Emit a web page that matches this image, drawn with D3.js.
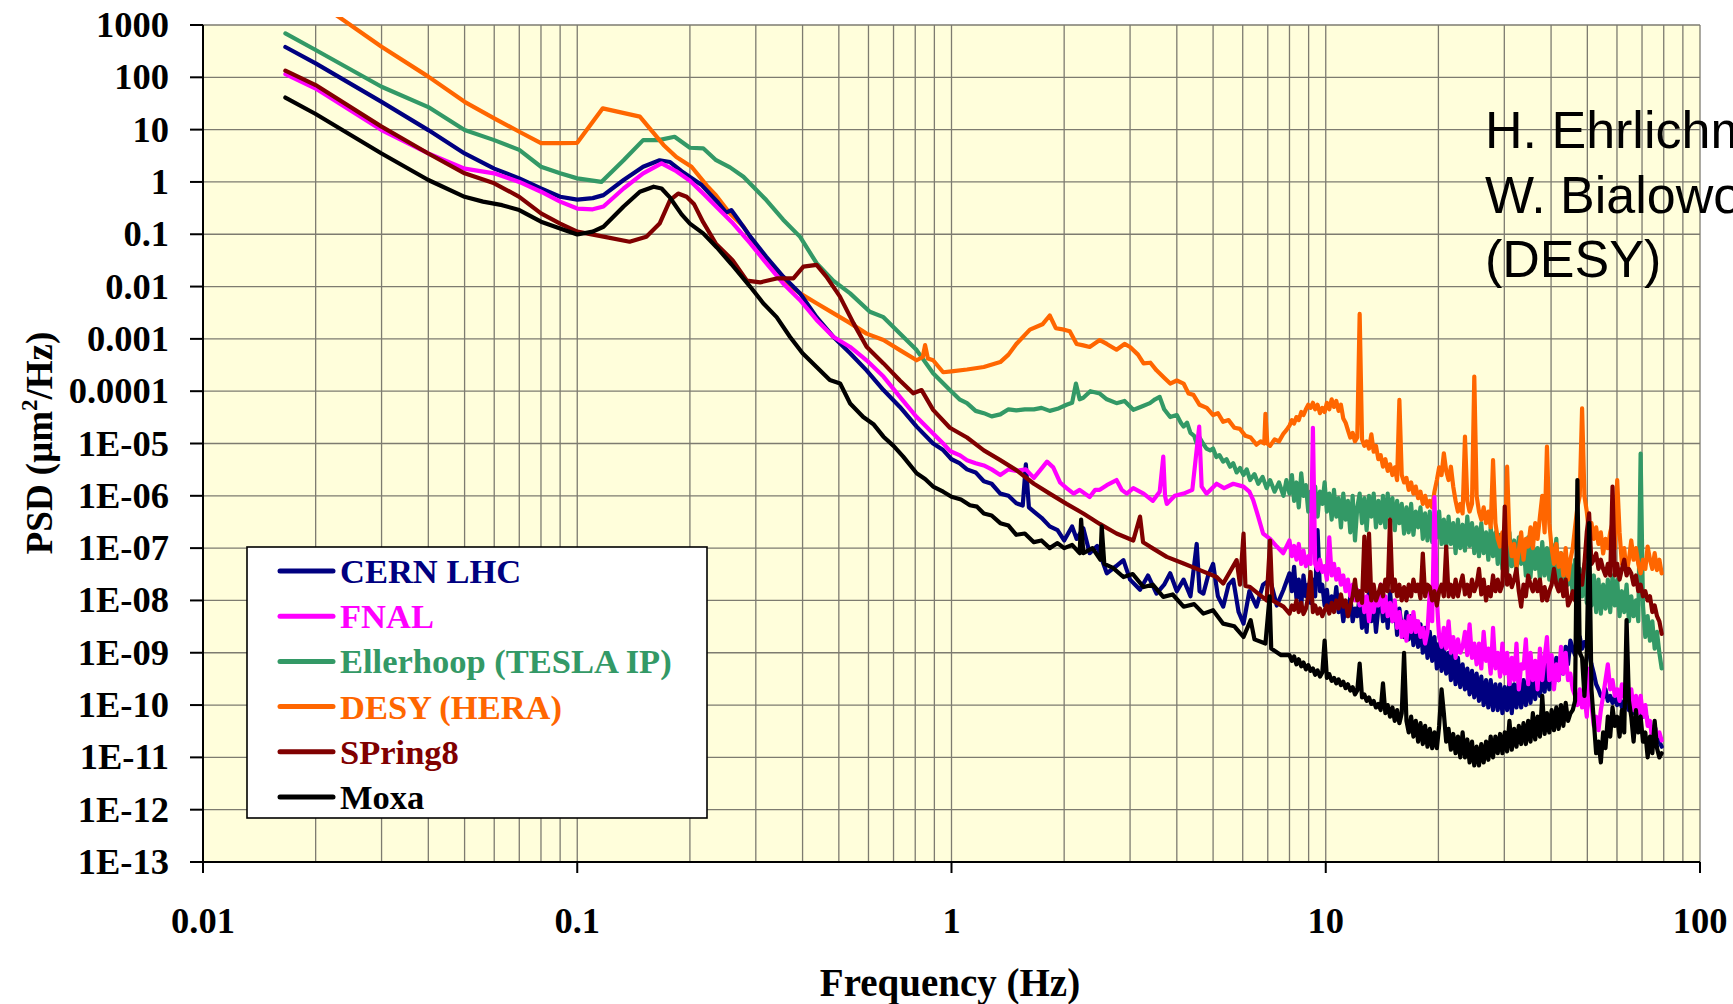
<!DOCTYPE html>
<html>
<head>
<meta charset="utf-8">
<script src="https://cdn.jsdelivr.net/npm/d3@7/dist/d3.min.js"></script>
<style>
  html, body { margin: 0; padding: 0; background: #ffffff; }
  svg { display: block; }
</style>
</head>
<body>
<svg id="chart" width="1733" height="1004"></svg>
<script>
// Ground-motion power spectral density at several accelerator sites.
// Below 8 Hz each site is a list of [frequency (Hz), PSD (µm²/Hz)] pairs;
// from 8 Hz up the PSD values follow the shared frequency list bandFreq.

const cernLow = [
  [0.0166,380],[0.02,185],[0.03,34],[0.04,9.8],[0.05,3.5],[0.06,1.8],[0.07,1.17],[0.08,0.75],[0.09,0.52],[0.1,0.46],
  [0.11,0.49],[0.1175,0.56],[0.133,1.09],[0.15,1.95],[0.166,2.6],[0.177,2.4],[0.19,1.6],[0.215,0.87],[0.238,0.4],[0.25,0.26],
  [0.258,0.29],[0.268,0.2],[0.29,0.09],[0.32,0.037],[0.355,0.0155],[0.394,0.0074],[0.436,0.0026],[0.483,0.0011],[0.536,5.3e-4],[0.593,2.5e-4],
  [0.658,1.05e-4],[0.728,5e-5],[0.807,2.1e-5],[0.893,1e-5],[0.95,7.5e-6],[1.0,5e-6],[1.05,4.2e-6],[1.1,3.2e-6],[1.16,2.8e-6],[1.22,1.9e-6],
  [1.28,1.7e-6],[1.35,1.1e-6],[1.42,1e-6],[1.49,7.2e-7],[1.55,6.5e-7],[1.58,4e-6],[1.61,6e-7],[1.66,5e-7],[1.74,3.8e-7],[1.83,2.6e-7],
  [1.92,2.2e-7],[2.0,1.4e-7],[2.1,2.6e-7],[2.16,1.5e-7],[2.25,2.4e-7],[2.34,8e-8],[2.45,1.1e-7],[2.6,3.3e-8],[2.75,4.5e-8],[2.88,5.9e-8],
  [3.0,2.5e-8],[3.19,1.6e-8],[3.35,3e-8],[3.53,1.35e-8],[3.7,2e-8],[3.84,3.3e-8],[4.0,1.5e-8],[4.17,2.5e-8],[4.35,1.2e-8],[4.52,1.2e-7],
  [4.6,1.5e-8],[4.71,1.35e-8],[4.85,3e-8],[5.0,5e-8],[5.15,1.2e-8],[5.32,7.6e-9],[5.5,2e-8],[5.66,2.5e-8],[5.85,6e-9],[6.03,3.6e-9],
  [6.25,1.5e-8],[6.53,7.6e-9],[6.8,2e-8],[7.1,2.5e-8],[7.4,8e-9],[7.71,1.6e-8]
];

const fnalLow = [
  [0.0166,115],[0.02,61],[0.03,9.8],[0.04,3.5],[0.05,1.8],[0.06,1.46],[0.07,1.0],[0.08,0.65],[0.09,0.42],[0.1,0.31],
  [0.11,0.3],[0.1175,0.34],[0.133,0.75],[0.15,1.46],[0.168,2.27],[0.184,1.6],[0.2,1.05],[0.217,0.6],[0.235,0.34],[0.261,0.16],
  [0.29,0.067],[0.32,0.028],[0.355,0.0115],[0.394,0.0055],[0.436,0.0023],[0.483,0.0011],[0.536,7e-4],[0.593,3.9e-4],[0.658,1.9e-4],[0.728,7.8e-5],
  [0.807,3.2e-5],[0.893,1.55e-5],[0.95,1e-5],[0.99,7.2e-6],[1.05,6e-6],[1.1,4.8e-6],[1.16,4.2e-6],[1.22,3.8e-6],[1.28,3.2e-6],[1.35,2.5e-6],
  [1.42,3.2e-6],[1.49,3e-6],[1.58,3.2e-6],[1.66,2.2e-6],[1.72,3e-6],[1.8,4.5e-6],[1.87,3.5e-6],[1.95,1.8e-6],[2.03,1.4e-6],[2.12,1.1e-6],
  [2.2,1.3e-6],[2.34,9.5e-7],[2.42,1.3e-6],[2.49,1.3e-6],[2.6,1.6e-6],[2.76,2e-6],[2.85,1.3e-6],[2.94,1.1e-6],[3.06,1.4e-6],[3.26,1.1e-6],
  [3.45,8e-7],[3.6,1.2e-6],[3.68,5.6e-6],[3.72,1e-6],[3.76,7e-7],[3.95,1e-6],[4.17,1.1e-6],[4.4,1.3e-6],[4.59,2.1e-5],[4.66,1.5e-6],
  [4.8,1.1e-6],[5.11,1.7e-6],[5.35,1.4e-6],[5.66,1.7e-6],[6.03,1.5e-6],[6.25,1.2e-6],[6.4,8.3e-7],[6.6,4e-7],[6.8,1.9e-7],[7.1,1.5e-7],
  [7.4,1.07e-7],[7.7,8e-8]
];

const ellerhoopLow = [
  [0.0166,690],[0.02,333],[0.03,66],[0.04,27],[0.05,9.8],[0.06,6.3],[0.07,4.1],[0.08,1.95],[0.09,1.46],[0.1,1.17],
  [0.116,1.0],[0.133,2.6],[0.15,6.3],[0.165,6.3],[0.182,7.3],[0.2,4.5],[0.217,4.4],[0.235,2.6],[0.256,1.9],[0.278,1.26],
  [0.32,0.45],[0.355,0.19],[0.394,0.089],[0.436,0.028],[0.483,0.013],[0.536,0.0074],[0.605,0.0033],[0.658,0.0026],[0.728,0.00127],[0.807,6.1e-4],
  [0.893,2.2e-4],[0.99,1.05e-4],[1.05,7e-5],[1.1,5.9e-5],[1.16,4.2e-5],[1.22,3.8e-5],[1.28,3.3e-5],[1.35,3.6e-5],[1.42,4.5e-5],[1.49,4.3e-5],
  [1.57,4.5e-5],[1.66,4.5e-5],[1.74,4.8e-5],[1.83,4.2e-5],[1.92,4.6e-5],[2.03,5.5e-5],[2.1,6e-5],[2.15,1.4e-4],[2.2,7e-5],[2.25,7.5e-5],
  [2.35,1e-4],[2.49,9e-5],[2.6,7e-5],[2.76,5.9e-5],[2.9,6.5e-5],[3.06,4.4e-5],[3.2,5e-5],[3.39,5.9e-5],[3.5,7e-5],[3.6,7.8e-5],
  [3.7,4.5e-5],[3.84,3.2e-5],[4.0,3.5e-5],[4.1,2.5e-5],[4.17,2.1e-5],[4.26,2.5e-5],[4.35,1.6e-5],[4.45,1.4e-5],[4.52,1e-5],[4.6,1.3e-5],
  [4.7,1e-5],[4.8,8e-6],[4.91,7.4e-6],[5.0,8e-6],[5.1,5.5e-6],[5.2,6e-6],[5.32,4.5e-6],[5.43,5e-6],[5.55,3.6e-6],[5.66,4.2e-6],
  [5.78,2.8e-6],[5.9,3.4e-6],[6.03,2.5e-6],[6.15,3.2e-6],[6.28,2e-6],[6.45,2.6e-6],[6.6,1.7e-6],[6.78,2.3e-6],[6.95,1.4e-6],[7.1,2e-6],
  [7.3,1.2e-6],[7.5,1.8e-6],[7.71,1e-6],[7.85,2e-6]
];

const desyLow = [
  [0.0166,7000],[0.0237,1250],[0.03,385],[0.04,103],[0.05,34],[0.06,16.4],[0.07,9.1],[0.08,5.5],[0.09,5.5],[0.1,5.6],
  [0.117,25.5],[0.147,17.7],[0.17,5.1],[0.184,3.0],[0.202,1.95],[0.222,0.85],[0.235,0.55],[0.256,0.25],[0.278,0.14],[0.314,0.037],
  [0.355,0.013],[0.394,0.0074],[0.436,0.0048],[0.483,0.0031],[0.536,0.002],[0.593,0.00126],[0.658,9.5e-4],[0.728,6.1e-4],[0.807,3.9e-4],[0.838,4.5e-4],
  [0.85,7.6e-4],[0.865,4.2e-4],[0.893,3.9e-4],[0.95,2.3e-4],[1.0,2.4e-4],[1.1,2.6e-4],[1.22,2.9e-4],[1.35,3.6e-4],[1.42,5e-4],[1.49,8e-4],
  [1.62,1.5e-3],[1.75,1.9e-3],[1.83,2.8e-3],[1.9,1.6e-3],[2.0,1.5e-3],[2.07,1.4e-3],[2.16,8e-4],[2.25,7.5e-4],[2.34,7e-4],[2.49,9.5e-4],
  [2.6,8e-4],[2.76,6.2e-4],[2.9,8e-4],[3.0,7e-4],[3.15,5e-4],[3.26,3.4e-4],[3.4,3.5e-4],[3.53,2.5e-4],[3.7,1.8e-4],[3.84,1.4e-4],
  [4.0,1.6e-4],[4.17,1.4e-4],[4.3,9e-5],[4.43,8.5e-5],[4.6,5.5e-5],[4.81,4.8e-5],[5.0,3.5e-5],[5.15,3.8e-5],[5.32,2.6e-5],[5.5,2.8e-5],
  [5.7,2e-5],[5.9,1.9e-5],[6.1,1.4e-5],[6.3,1.3e-5],[6.53,9.5e-6],[6.7,1.1e-5],[6.85,1e-5],[6.9,3.7e-5],[6.98,1e-5],[7.1,9e-6],
  [7.3,1.2e-5],[7.5,1.1e-5],[7.71,1.55e-5],[7.85,1.8e-5]
];

const spring8Low = [
  [0.0166,134],[0.02,71],[0.03,11.4],[0.04,3.5],[0.05,1.46],[0.06,0.94],[0.07,0.52],[0.08,0.25],[0.09,0.16],[0.1,0.112],
  [0.1175,0.09],[0.138,0.072],[0.153,0.09],[0.166,0.16],[0.177,0.45],[0.186,0.6],[0.196,0.52],[0.205,0.38],[0.217,0.17],[0.235,0.065],
  [0.26,0.032],[0.284,0.013],[0.308,0.012],[0.341,0.0143],[0.378,0.0143],[0.402,0.024],[0.436,0.026],[0.463,0.0155],[0.503,0.0065],[0.547,0.002],
  [0.593,7.1e-4],[0.658,3.4e-4],[0.728,1.6e-4],[0.79,9.1e-5],[0.832,1.05e-4],[0.893,4.4e-5],[0.99,2e-5],[1.1,1.3e-5],[1.22,7.4e-6],[1.35,4.8e-6],
  [1.49,3.1e-6],[1.66,1.7e-6],[1.83,1.1e-6],[2.03,7e-7],[2.25,4.6e-7],[2.49,2.9e-7],[2.76,1.9e-7],[3.06,1.4e-7],[3.19,4e-7],[3.25,1.3e-7],
  [3.39,1.07e-7],[3.76,6.8e-8],[4.17,5.1e-8],[4.61,3.8e-8],[5.11,2.8e-8],[5.32,2.1e-8],[5.78,5.9e-8],[5.9,2e-8],[6.03,1.9e-7],[6.1,1.9e-8],
  [6.28,1.8e-8],[6.95,1e-8],[7.1,1.4e-7],[7.2,1e-8],[7.71,7.6e-9]
];

const moxaLow = [
  [0.0166,41],[0.02,19.9],[0.03,3.5],[0.04,1.09],[0.05,0.52],[0.056,0.42],[0.063,0.36],[0.07,0.29],[0.08,0.174],[0.09,0.129],
  [0.1,0.099],[0.11,0.112],[0.1175,0.139],[0.133,0.34],[0.147,0.65],[0.16,0.81],[0.168,0.75],[0.177,0.5],[0.19,0.24],[0.2,0.16],
  [0.217,0.104],[0.236,0.056],[0.258,0.027],[0.29,0.0099],[0.314,0.0048],[0.341,0.0026],[0.37,0.0011],[0.4,5.3e-4],[0.436,2.9e-4],[0.473,1.63e-4],
  [0.504,1.4e-4],[0.536,5.8e-5],[0.581,3.2e-5],[0.62,2.3e-5],[0.658,1.35e-5],[0.7,9e-6],[0.743,5.6e-6],[0.807,2.7e-6],[0.85,2.1e-6],[0.893,1.5e-6],
  [0.95,1.2e-6],[1.0,9.6e-7],[1.06,8.5e-7],[1.12,6.6e-7],[1.17,6.2e-7],[1.22,4.6e-7],[1.28,4.2e-7],[1.35,3e-7],[1.42,2.7e-7],[1.49,1.8e-7],
  [1.57,1.9e-7],[1.66,1.3e-7],[1.74,1.4e-7],[1.83,1.0e-7],[1.92,1.25e-7],[2.0,1.0e-7],[2.1,1.15e-7],[2.2,8e-8],[2.22,3.5e-7],[2.25,8e-8],
  [2.38,1e-7],[2.5,6e-8],[2.52,2.6e-7],[2.56,5e-8],[2.7,4.2e-8],[2.88,2.8e-8],[3.05,3.2e-8],[3.26,1.8e-8],[3.45,2e-8],[3.68,1.17e-8],
  [3.9,1.3e-8],[4.17,7.6e-9],[4.45,8.5e-9],[4.71,5.6e-9],[5.0,6.5e-9],[5.32,3.6e-9],[5.7,3.2e-9],[6.03,2e-9],[6.3,4.2e-9],[6.45,1.8e-9],
  [6.9,1.5e-9],[7.08,1.2e-8],[7.15,1.2e-9],[7.6,9e-10]
];

// shared frequencies (Hz) of the noisy upper band
const bandFreq = [
  8.00, 8.12, 8.23, 8.35, 8.47, 8.60, 8.72, 8.85, 8.98, 9.11,
  9.24, 9.37, 9.51, 9.65, 9.79, 9.93, 10.07, 10.22, 10.37, 10.52,
  10.67, 10.82, 10.98, 11.14, 11.30, 11.46, 11.63, 11.80, 11.97, 12.14,
  12.32, 12.50, 12.68, 12.86, 13.05, 13.24, 13.43, 13.62, 13.82, 14.02,
  14.22, 14.43, 14.64, 14.85, 15.07, 15.29, 15.51, 15.73, 15.96, 16.19,
  16.43, 16.66, 16.91, 17.15, 17.40, 17.65, 17.91, 18.17, 18.43, 18.70,
  18.97, 19.25, 19.52, 19.81, 20.09, 20.39, 20.68, 20.98, 21.29, 21.60,
  21.91, 22.23, 22.55, 22.88, 23.21, 23.55, 23.89, 24.23, 24.59, 24.94,
  25.30, 25.67, 26.04, 26.42, 26.81, 27.19, 27.59, 27.99, 28.40, 28.81,
  29.23, 29.65, 30.08, 30.52, 30.96, 31.41, 31.87, 32.33, 32.80, 33.28,
  33.76, 34.25, 34.75, 35.25, 35.76, 36.28, 36.81, 37.35, 37.89, 38.44,
  39.00, 39.56, 40.14, 40.72, 41.31, 41.91, 42.52, 43.14, 43.76, 44.40,
  45.04, 45.70, 46.36, 47.03, 47.72, 48.41, 49.11, 49.83, 50.55, 51.28,
  52.03, 52.78, 53.55, 54.33, 55.11, 55.91, 56.72, 57.55, 58.38, 59.23,
  60.09, 60.96, 61.85, 62.74, 63.65, 64.58, 65.51, 66.46, 67.43, 68.41,
  69.40, 70.41, 71.43, 72.46, 73.51, 74.58, 75.66, 76.76, 77.87, 79.00
];

const cernBand = [
  3.3e-8, 1.5e-8, 4.4e-8, 1.1e-8, 2.5e-8, 8e-9, 3e-8, 1.2e-8, 2e-8, 9e-9,
  2.5e-8, 1.2e-8, 2.2e-7, 1.5e-8, 2e-8, 8e-9, 1.6e-8, 6e-9, 1.2e-8, 7e-9,
  1.8e-8, 6e-9, 1e-8, 4e-9, 8e-9, 5e-9, 1.2e-8, 4e-9, 7e-9, 5e-9,
  1.2e-8, 3e-9, 8e-9, 2.5e-9, 1.5e-8, 4e-9, 9e-9, 2.5e-9, 7e-9, 1.3e-8,
  4e-9, 1e-8, 3e-9, 1.5e-8, 4e-9, 9e-9, 2.2e-9, 7e-9, 3e-9, 2e-9,
  6e-9, 1.8e-9, 5e-9, 1.4e-9, 4e-9, 1.3e-9, 3.5e-9, 1e-9, 3e-9, 8e-10,
  2.5e-9, 7e-10, 2e-9, 5e-10, 1.5e-9, 4.5e-10, 1.3e-9, 4e-10, 1e-9, 3e-10,
  9e-10, 2.5e-10, 8e-10, 2.2e-10, 6e-10, 2e-10, 5e-10, 1.6e-10, 4.5e-10, 1.4e-10,
  4e-10, 1.2e-10, 3.5e-10, 1e-10, 3e-10, 9e-11, 3e-10, 8e-11, 2.5e-10, 8e-11,
  2.5e-10, 7e-11, 2.2e-10, 8e-11, 2.8e-10, 7e-11, 2.5e-10, 9e-11, 3e-10, 9e-11,
  3e-10, 1e-10, 3.5e-10, 1.1e-10, 4e-10, 1.3e-10, 4.5e-10, 1.5e-10, 5e-10, 1.8e-10,
  6e-10, 2e-10, 7e-10, 2.5e-10, 8e-10, 3e-10, 9e-10, 4e-10, 1.3e-9, 6e-10,
  1.7e-9, 1.2e-9, 9e-10, 1.5e-9, 2e-9, 1.2e-9, 1.6e-9, 1.3e-9, 1e-9, 6e-10,
  4e-10, 2.5e-10, 2e-10, 1.5e-10, 1.4e-10, 2e-10, 1.2e-10, 1.5e-10, 1.1e-10, 1.4e-10,
  1e-10, 1.3e-10, 9e-11, 1.2e-10, 1e-10, 8e-11, 1.1e-10, 7e-11, 9e-11, 7e-11,
  8e-11, 6e-11, 7e-11, 5e-11, 4e-11, 3.3e-11, 4e-11, 2.5e-11, 2e-11, 1.6e-11
];

const fnalBand = [
  1.4e-7, 7e-8, 1.1e-7, 6e-8, 1.2e-7, 5e-8, 9e-8, 4.5e-8, 7e-8, 5e-8,
  2e-5, 5e-8, 3.8e-8, 6e-8, 3.5e-8, 4.5e-8, 2.5e-8, 1.6e-7, 3e-8, 5e-8,
  2.5e-8, 4e-8, 2e-8, 3e-8, 1.5e-8, 2.5e-8, 1.2e-8, 2e-8, 1e-8, 1.6e-8,
  8e-9, 1.5e-8, 6e-9, 1.2e-8, 4e-9, 1e-8, 6e-9, 1.4e-8, 8e-9, 2e-8,
  6e-9, 1.2e-8, 5e-9, 9e-9, 4e-9, 1e-8, 3e-9, 6e-9, 2e-9, 4e-9,
  1.7e-9, 5e-9, 2.5e-9, 6e-9, 2.5e-9, 4e-9, 2e-9, 3e-9, 1.5e-9, 2.5e-9,
  1.5e-8, 4e-9, 9.5e-7, 1e-8, 2e-9, 1.3e-9, 3e-9, 1.2e-9, 4e-9, 1e-9,
  2e-9, 8e-10, 1.8e-9, 1e-9, 1.3e-9, 2.5e-9, 9e-10, 3.5e-9, 8e-10, 1.5e-9,
  6e-10, 1.5e-9, 5e-10, 2.5e-9, 7e-10, 1.2e-9, 4e-10, 3e-9, 5e-10, 1e-9,
  3.5e-10, 1.5e-9, 4e-10, 1e-9, 2.5e-10, 8e-10, 3e-10, 1.5e-9, 2e-10, 6e-10,
  5e-10, 1.8e-9, 2.5e-10, 1e-9, 3e-10, 7e-10, 2e-10, 1.2e-9, 3e-10, 8e-10,
  2e-9, 3e-10, 9e-10, 2e-10, 6e-10, 3e-10, 1.3e-9, 4e-10, 1e-9, 3e-10,
  4e-10, 2e-10, 1.5e-10, 1e-10, 2e-10, 9e-11, 1.5e-10, 6e-11, 5e-10, 1e-10,
  4e-11, 6e-11, 3.3e-11, 8e-11, 1.5e-10, 3e-10, 6e-10, 2e-10, 3e-10, 1.5e-10,
  2e-10, 1.2e-10, 2.5e-10, 1.4e-10, 3e-10, 1.2e-10, 2e-10, 8e-11, 1.5e-10, 7e-11,
  1.5e-10, 6e-11, 1e-10, 4e-11, 5e-11, 2.1e-11, 4e-11, 2.5e-11, 3e-11, 2.1e-11
];

const ellerhoopBand = [
  1.1e-6, 2.5e-6, 8e-7, 1.8e-6, 6e-7, 2.7e-6, 1e-6, 1.6e-6, 5e-7, 1.2e-6,
  6e-7, 1.5e-6, 4e-7, 1.2e-6, 7e-7, 1.8e-6, 5e-7, 1.1e-6, 3.5e-7, 1.3e-6,
  4e-7, 9e-7, 2.5e-7, 1.1e-6, 3.5e-7, 8e-7, 2e-7, 1e-6, 1.4e-7, 6e-7,
  1.1e-6, 3e-7, 9e-7, 2.2e-7, 1e-6, 4e-7, 1.1e-6, 2.5e-7, 8e-7, 3e-7,
  1e-6, 2.5e-7, 1.1e-6, 4e-7, 9e-7, 2.2e-7, 8e-7, 3e-7, 7e-7, 1.9e-7,
  6e-7, 2e-7, 7e-7, 1.8e-7, 5e-7, 2.5e-7, 6e-7, 1.5e-7, 4.6e-7, 1.4e-7,
  5e-7, 1.3e-7, 4e-7, 1.6e-7, 5e-7, 1.2e-7, 3.5e-7, 1e-7, 4e-7, 1.2e-7,
  3e-7, 8e-8, 3.5e-7, 1e-7, 2.8e-7, 9e-8, 4e-7, 1.1e-7, 3e-7, 8e-8,
  2.5e-7, 7e-8, 3e-7, 8e-8, 2e-7, 6e-8, 2.5e-7, 7e-8, 2e-7, 5e-8,
  1.8e-7, 4e-8, 1.5e-7, 3.3e-8, 2e-7, 4.5e-8, 1.4e-7, 3.5e-8, 1.6e-7, 5e-8,
  1.3e-7, 3e-8, 1.6e-7, 2.8e-8, 1.2e-7, 4e-8, 1e-7, 2.5e-8, 1.3e-7, 3e-8,
  1e-7, 2.5e-8, 1.2e-7, 3e-8, 1.5e-7, 2e-8, 8e-8, 1.5e-8, 6e-8, 2e-8,
  5e-8, 1.3e-8, 6e-8, 1e-8, 4e-8, 1.2e-8, 5e-8, 9e-9, 3.5e-8, 8e-9,
  3e-8, 6e-9, 2.5e-8, 5.6e-9, 2e-8, 7e-9, 2.5e-8, 6e-9, 3e-8, 8e-9,
  2.5e-8, 5e-9, 1.5e-8, 6e-9, 2e-8, 4e-9, 1.2e-8, 5e-9, 1e-8, 4e-9,
  6.4e-6, 8e-9, 2e-9, 5e-9, 1.7e-9, 4e-9, 1.2e-9, 2.5e-9, 1e-9, 5e-10
];

const desyBand = [
  2.2e-5, 2.8e-5, 2.4e-5, 3.2e-5, 2.8e-5, 4e-5, 3.5e-5, 4.5e-5, 5.5e-5, 4.8e-5,
  6e-5, 4.5e-5, 5.5e-5, 3.8e-5, 4.8e-5, 4e-5, 6e-5, 4.5e-5, 7e-5, 5e-5,
  6.5e-5, 4.2e-5, 5.5e-5, 3e-5, 2.5e-5, 1.8e-5, 1.3e-5, 1.6e-5, 1.1e-5, 1.3e-5,
  3e-3, 1.2e-5, 9e-6, 1.1e-5, 8e-6, 1.5e-5, 7e-6, 9e-6, 5e-6, 6e-6,
  3.6e-6, 5e-6, 3e-6, 4e-6, 2.5e-6, 3.5e-6, 2e-6, 6.8e-5, 2.5e-6, 1.8e-6,
  2.2e-6, 1.3e-6, 1.8e-6, 1.1e-6, 1.5e-6, 9e-7, 1.2e-6, 7e-7, 1e-6, 6.2e-7,
  8e-7, 6e-7, 1.2e-6, 2e-6, 3.5e-6, 2.5e-6, 6.5e-6, 3e-6, 2e-6, 3.6e-6,
  1.5e-6, 8e-7, 5e-7, 7e-7, 4.6e-7, 1.35e-5, 8e-7, 5e-7, 7e-7, 1.9e-4,
  1e-6, 5e-7, 3.5e-7, 6e-7, 3e-7, 5e-7, 2.5e-7, 4.8e-6, 3e-7, 1.5e-7,
  1.07e-7, 2e-7, 8e-8, 3.6e-6, 1.5e-7, 7e-8, 1.2e-7, 4.4e-8, 9e-8, 2e-7,
  6e-8, 1.5e-7, 1.07e-7, 2.5e-7, 1e-7, 3e-7, 1.5e-7, 4e-7, 1e-6, 2e-7,
  8.7e-6, 3e-7, 1e-7, 5e-8, 1.2e-7, 4.4e-8, 8e-8, 3e-8, 1e-7, 2.5e-8,
  6e-8, 1e-7, 2.5e-7, 6e-7, 1e-6, 4.7e-5, 1e-6, 5e-7, 1.9e-7, 3e-7,
  1.5e-7, 2.5e-7, 1.2e-7, 2e-7, 7.9e-8, 1.5e-7, 1e-7, 2e-7, 3e-7, 1e-7,
  2e-6, 2e-7, 5e-8, 1e-7, 3.3e-8, 6e-8, 1.4e-7, 6e-8, 1e-7, 5e-8,
  3.3e-8, 6e-8, 4e-8, 1.07e-7, 6e-8, 4e-8, 8e-8, 3.8e-8, 6e-8, 3.3e-8
];

const spring8Band = [
  5.6e-9, 8e-9, 6.6e-9, 1e-8, 6e-9, 9e-9, 5.5e-9, 7e-9, 1.2e-8, 3.5e-8,
  6e-9, 8e-9, 5.6e-9, 7e-9, 5e-9, 6.5e-9, 8e-9, 5.6e-9, 9e-9, 6e-9,
  1e-8, 7e-9, 1.3e-8, 7.6e-9, 1e-8, 5e-9, 8e-9, 1.2e-8, 2.5e-8, 1e-8,
  1.5e-8, 9e-9, 1.66e-7, 1.5e-8, 1.9e-7, 1e-8, 2e-8, 1e-8, 1.35e-8, 2e-8,
  1.2e-8, 2.5e-8, 1.5e-8, 3.5e-7, 1.5e-8, 2.5e-8, 1.2e-8, 2e-8, 1e-8, 1.8e-8,
  1e-8, 2e-8, 1.2e-8, 2.5e-8, 1.5e-8, 2e-8, 1.1e-8, 7.9e-8, 1.2e-8, 2e-8,
  1.8e-8, 1e-8, 1.5e-8, 8e-9, 1.5e-8, 2e-8, 1.2e-8, 1.07e-7, 1.2e-8, 2e-8,
  1.17e-8, 2.5e-8, 1.2e-8, 2e-8, 3e-8, 1.3e-8, 2e-8, 1.2e-8, 2.5e-8, 1.5e-8,
  2e-8, 4e-8, 1.3e-8, 2.5e-8, 1e-8, 1.8e-8, 1.2e-8, 3e-8, 1.5e-8, 2.5e-8,
  1.5e-8, 2e-8, 6.2e-7, 2e-8, 3e-8, 1.8e-8, 2.5e-8, 4e-8, 1.5e-8, 7.6e-9,
  2e-8, 1.2e-8, 3e-8, 2e-8, 1.5e-8, 2.5e-8, 1.5e-8, 2.5e-8, 1e-8, 1.8e-8,
  1e-8, 1.5e-8, 2e-8, 4e-8, 2e-8, 1.5e-8, 2.5e-8, 1.2e-8, 2.5e-8, 8e-9,
  1e-8, 1.5e-8, 1e-8, 2e-8, 3e-8, 2e-8, 5e-8, 2e-7, 4.6e-7, 5e-8,
  6e-8, 7.9e-8, 4e-8, 6e-8, 4e-8, 3e-8, 5e-8, 3e-8, 1.5e-6, 3e-8,
  5e-8, 2.5e-8, 4e-8, 6e-8, 3e-8, 4e-8, 3.3e-8, 2e-8, 3e-8, 1.5e-8,
  2e-8, 1.2e-8, 1.5e-8, 1e-8, 1.2e-8, 6e-9, 8e-9, 5e-9, 4e-9, 2.3e-9
];

const moxaBand = [
  9e-10, 7e-10, 8.5e-10, 6e-10, 7.5e-10, 5.5e-10, 6.5e-10, 4.8e-10, 5.8e-10, 4.5e-10,
  5e-10, 3.8e-10, 4.6e-10, 3.5e-10, 4.2e-10, 1.7e-9, 3.3e-10, 3.9e-10, 2.9e-10, 3.3e-10,
  2.6e-10, 3.1e-10, 2.4e-10, 2.8e-10, 2.1e-10, 2.5e-10, 1.9e-10, 2.2e-10, 1.6e-10, 1.9e-10,
  6.2e-10, 1.4e-10, 1.6e-10, 1.2e-10, 1.4e-10, 1.05e-10, 1.2e-10, 9e-11, 1.05e-10, 8e-11,
  2.6e-10, 7e-11, 1e-10, 6e-11, 9e-11, 5e-11, 8e-11, 4.5e-11, 7e-11, 1e-9,
  5e-11, 3e-11, 6e-11, 2.5e-11, 5e-11, 2e-11, 4.5e-11, 1.8e-11, 4e-11, 1.6e-11,
  3.5e-11, 1.5e-11, 3e-11, 1.5e-11, 4e-11, 2e-10, 7e-11, 2e-11, 3.5e-11, 1.4e-11,
  2.8e-11, 1.2e-11, 2.5e-11, 1e-11, 3e-11, 1e-11, 2.2e-11, 8e-12, 2e-11, 7e-12,
  1.6e-11, 7e-12, 1.8e-11, 8e-12, 2e-11, 9e-12, 2.5e-11, 1e-11, 2.5e-11, 1.2e-11,
  2.8e-11, 1.2e-11, 3e-11, 1.3e-11, 5e-11, 1.4e-11, 3.5e-11, 1.6e-11, 4e-11, 1.8e-11,
  4.5e-11, 1.8e-11, 5e-11, 2e-11, 7e-11, 2.2e-11, 6e-11, 2.5e-11, 1.5e-10, 2.8e-11,
  7e-11, 3e-11, 8e-11, 3.3e-11, 9e-11, 3.5e-11, 1e-10, 4e-11, 1.1e-10, 5e-11,
  6.9e-11, 8e-11, 1.2e-10, 2e-6, 1e-9, 8e-10, 1.5e-10, 1e-9, 3e-7, 2e-10,
  5e-11, 1.2e-11, 2e-11, 8e-12, 3e-11, 1.5e-11, 6e-11, 2.5e-11, 9e-11, 4e-11,
  6e-11, 2.5e-11, 8e-11, 3e-11, 4.2e-9, 1.2e-10, 6e-11, 2e-11, 8e-11, 3e-11,
  6e-11, 2e-11, 3e-11, 1e-11, 2.5e-11, 1.2e-11, 5e-11, 1.5e-11, 1e-11, 1.2e-11
];

const seriesNames  = ["CERN LHC", "FNAL", "Ellerhoop (TESLA IP)", "DESY (HERA)", "SPring8", "Moxa"];
const seriesLow    = [cernLow, fnalLow, ellerhoopLow, desyLow, spring8Low, moxaLow];
const seriesBand   = [cernBand, fnalBand, ellerhoopBand, desyBand, spring8Band, moxaBand];
const seriesColors = ["#000080", "#ff00ff", "#339966", "#ff6600", "#800000", "#000000"];
// painting order (back to front), as indices into the series above
const paintOrder   = [2, 3, 0, 1, 4, 5];

const yTickValues = [1e3,1e2,1e1,1,1e-1,1e-2,1e-3,1e-4,1e-5,1e-6,1e-7,1e-8,1e-9,1e-10,1e-11,1e-12,1e-13];
const yTickLabels = ["1000","100","10","1","0.1","0.01","0.001","0.0001","1E-05","1E-06","1E-07","1E-08","1E-09","1E-10","1E-11","1E-12","1E-13"];
const xTickValues = [0.01, 0.1, 1, 10, 100];
const xTickLabels = ["0.01", "0.1", "1", "10", "100"];

const authorLines = ["H. Ehrlichmann", "W. Bialowons", "(DESY)"];

// full spectrum of each site
const seriesData = seriesLow.map((low, i) =>
  low.concat(bandFreq.map((f, k) => [f, seriesBand[i][k]])));

// ---------- layout ----------
const svg = d3.select("#chart");
const plot = { left: 203, right: 1700, top: 25, bottom: 862 };

const x = d3.scaleLog().domain([0.01, 100]).range([plot.left, plot.right]);
const y = d3.scaleLog().domain([1e-13, 1e3]).range([plot.bottom, plot.top]);

const serif = "'Liberation Serif', 'Times New Roman', Times, serif";

svg.append("rect").attr("width", 1733).attr("height", 1004).attr("fill", "#ffffff");

// plot area
svg.append("rect")
  .attr("x", plot.left).attr("y", plot.top)
  .attr("width", plot.right - plot.left).attr("height", plot.bottom - plot.top)
  .attr("fill", "#fffedb");

// grid: every 1..9 per decade vertically, every decade horizontally
const grid = svg.append("g").attr("stroke", "#7d7b70").attr("stroke-width", 1.3);
grid.selectAll("line.v").data(x.ticks()).join("line")
  .attr("x1", d => x(d)).attr("x2", d => x(d))
  .attr("y1", plot.top).attr("y2", plot.bottom);
grid.selectAll("line.h").data(yTickValues).join("line")
  .attr("x1", plot.left).attr("x2", plot.right)
  .attr("y1", d => y(d)).attr("y2", d => y(d));

// ---------- series ----------
svg.append("defs").append("clipPath").attr("id", "plotClip")
  .append("rect").attr("x", plot.left).attr("y", 17)
  .attr("width", plot.right - plot.left).attr("height", plot.bottom - 17);

const line = d3.line().x(d => x(d[0])).y(d => y(d[1]));
const lines = svg.append("g").attr("clip-path", "url(#plotClip)");
paintOrder.forEach(i => {
  lines.append("path")
    .datum(seriesData[i])
    .attr("d", line)
    .attr("fill", "none")
    .attr("stroke", seriesColors[i])
    .attr("stroke-width", 4.2)
    .attr("stroke-linejoin", "round")
    .attr("stroke-linecap", "round");
});

// ---------- axes ----------
const axes = svg.append("g").attr("stroke", "#000").attr("stroke-width", 2);
axes.append("line").attr("x1", plot.left).attr("x2", plot.left).attr("y1", plot.top).attr("y2", plot.bottom + 11);
axes.append("line").attr("x1", plot.left).attr("x2", plot.right).attr("y1", plot.bottom).attr("y2", plot.bottom);
axes.selectAll("line.yt").data(yTickValues).join("line")
  .attr("x1", plot.left - 13).attr("x2", plot.left)
  .attr("y1", d => y(d)).attr("y2", d => y(d));
axes.selectAll("line.xt").data(xTickValues).join("line")
  .attr("x1", d => x(d)).attr("x2", d => x(d))
  .attr("y1", plot.bottom).attr("y2", plot.bottom + 11);

svg.append("g").selectAll("text").data(yTickValues).join("text")
  .attr("x", 169).attr("y", d => y(d) + 12)
  .attr("text-anchor", "end")
  .attr("font-family", serif).attr("font-weight", "bold").attr("font-size", 36.5)
  .text((d, i) => yTickLabels[i]);

svg.append("g").selectAll("text").data(xTickValues).join("text")
  .attr("x", d => x(d)).attr("y", 933)
  .attr("text-anchor", "middle")
  .attr("font-family", serif).attr("font-weight", "bold").attr("font-size", 36.5)
  .text((d, i) => xTickLabels[i]);

// axis titles
svg.append("text")
  .attr("x", 950).attr("y", 996)
  .attr("text-anchor", "middle")
  .attr("font-family", serif).attr("font-weight", "bold").attr("font-size", 39)
  .text("Frequency (Hz)");

const yTitle = svg.append("text")
  .attr("transform", "translate(52,443) rotate(-90)")
  .attr("text-anchor", "middle")
  .attr("font-family", serif).attr("font-weight", "bold").attr("font-size", 37);
yTitle.append("tspan").text("PSD (\u03bcm");
yTitle.append("tspan").attr("font-size", 23).attr("dy", -15).text("2");
yTitle.append("tspan").attr("dy", 15).text("/Hz)");

// ---------- legend ----------
const legend = svg.append("g");
legend.append("rect")
  .attr("x", 247).attr("y", 547).attr("width", 460).attr("height", 271)
  .attr("fill", "#ffffff").attr("stroke", "#000").attr("stroke-width", 1.6);
const rowY = d3.scalePoint().domain(d3.range(seriesNames.length)).range([571, 797]);
seriesNames.forEach((name, i) => {
  legend.append("line")
    .attr("x1", 280).attr("x2", 333)
    .attr("y1", rowY(i)).attr("y2", rowY(i))
    .attr("stroke", seriesColors[i]).attr("stroke-width", 5).attr("stroke-linecap", "round");
  legend.append("text")
    .attr("x", 340).attr("y", rowY(i) + 12)
    .attr("font-family", serif).attr("font-weight", "bold").attr("font-size", 34.5)
    .attr("fill", seriesColors[i])
    .text(name);
});

// ---------- author note (runs past the right edge of the page) ----------
svg.append("g").selectAll("text").data(authorLines).join("text")
  .attr("x", 1485).attr("y", (d, i) => 148 + i * 64.5)
  .attr("font-family", "'Liberation Sans', Arial, sans-serif").attr("font-size", 52)
  .attr("fill", "#000")
  .text(d => d);
</script>
</body>
</html>
